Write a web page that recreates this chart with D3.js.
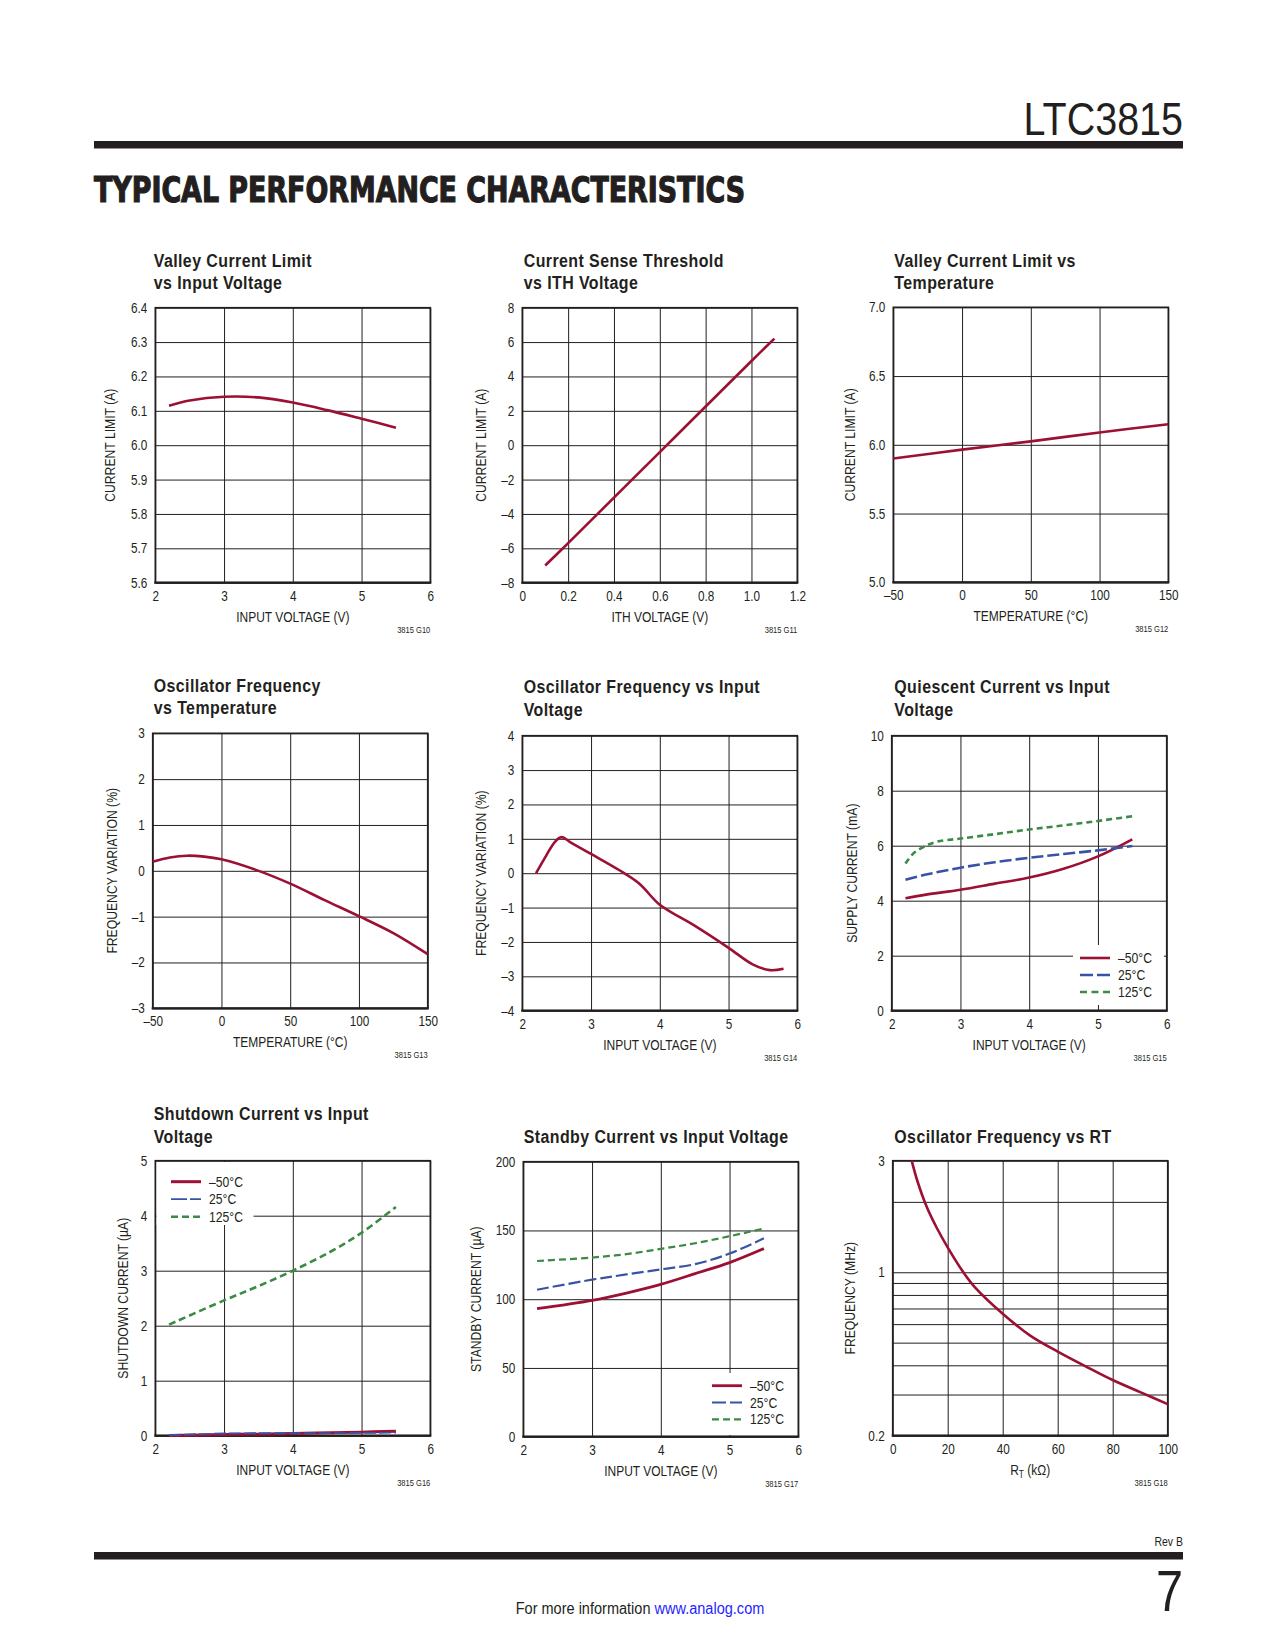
<!DOCTYPE html>
<html>
<head>
<meta charset="utf-8">
<script src="https://cdn.jsdelivr.net/npm/d3@7"></script>
<style>
body { margin: 0; background: #fff; }
svg text { font-family: 'Liberation Sans', Arial, sans-serif; fill: #231f20; }
</style>
</head>
<body>
<svg width="1275" height="1650"></svg>
<script>
// ---------- data ----------
// G10 valley current limit vs input voltage
var g10Vin  = [2.2, 2.5, 3.0, 3.5, 4.0, 4.5, 5.0, 5.5];
var g10Ilim = [6.115, 6.130, 6.141, 6.139, 6.124, 6.102, 6.077, 6.051];
// G11 current sense threshold vs ITH
var g11Vith = [0.1, 0.2, 0.4, 0.6, 0.8, 1.0, 1.1];
var g11Ilim = [-7.0, -5.7, -3.05, -0.4, 2.25, 4.9, 6.2];
// G12 valley current limit vs temperature
var g12Temp = [-50, 0, 50, 100, 150];
var g12Ilim = [5.90, 5.965, 6.025, 6.09, 6.15];
// G13 oscillator frequency vs temperature
var g13Temp = [-50, -37.5, -25, -12.5, 0, 25, 50, 75, 100, 125, 150];
var g13Freq = [0.20, 0.29, 0.33, 0.31, 0.25, 0.02, -0.28, -0.64, -0.99, -1.36, -1.82];
// G14 oscillator frequency vs input voltage
var g14Vin  = [2.2, 2.35, 2.47, 2.57, 2.7, 3.0, 3.4, 3.7, 4.0, 4.5, 5.0, 5.35, 5.6, 5.8];
var g14Freq = [0.0, 0.52, 0.9, 1.05, 0.9, 0.56, 0.1, -0.3, -0.92, -1.52, -2.17, -2.65, -2.82, -2.78];
// G15 quiescent current vs input voltage
var g15Vin     = [2.2, 2.5, 3.0, 3.5, 4.0, 4.5, 5.0, 5.5];
var g15Cold    = [4.09, 4.22, 4.40, 4.62, 4.84, 5.16, 5.61, 6.23];
var g15Room    = [4.76, 4.95, 5.20, 5.40, 5.56, 5.70, 5.83, 5.99];
var g15VinHot  = [2.2, 2.32, 2.46, 2.65, 3.0, 3.5, 4.0, 4.5, 5.0, 5.5];
var g15Hot     = [5.35, 5.73, 5.95, 6.14, 6.26, 6.42, 6.59, 6.74, 6.90, 7.07];
// G16 shutdown current vs input voltage
var g16Vin    = [2.2, 3.0, 3.5, 4.0, 4.54, 5.0, 5.5];
var g16Hot    = [2.02, 2.46, 2.72, 3.0, 3.34, 3.69, 4.16];
var g16VinLow = [2.2, 3.0, 4.0, 5.0, 5.5];
var g16Cold   = [0.005, 0.02, 0.04, 0.065, 0.08];
var g16Room   = [0.01, 0.04, 0.045, 0.05, 0.055];
// G17 standby current vs input voltage
var g17Vin  = [2.2, 3.0, 3.5, 4.0, 4.5, 5.0, 5.5];
var g17Cold = [93.1, 99.2, 104.5, 110.8, 118.6, 126.6, 136.8];
var g17Room = [106.9, 114.2, 118.0, 121.7, 125.5, 133.2, 144.3];
var g17Hot  = [127.8, 130.3, 132.8, 136.6, 140.7, 145.8, 151.4];
// G18 oscillator frequency vs RT
var g18Rt   = [6.9, 9, 12.4, 16, 20.3, 25.7, 30, 40, 50, 60, 70, 80, 90, 100];
var g18Freq = [3.0, 2.45, 1.9, 1.55, 1.26, 1.0, 0.86, 0.665, 0.536, 0.458, 0.397, 0.346, 0.307, 0.273];

var tempLabels = ["\u201350\u00b0C", "25\u00b0C", "125\u00b0C"];

// ---------- styles ----------
var RED = "#9c1034", BLUE = "#3953a4", GREEN = "#3b8a45", INK = "#231f20";
var W = 275, H = 275;
var SX = 0.84;  // fake a condensed face
var svg = d3.select("svg");

function fmt(d, p) {
  var s = p == null ? String(d) : (p === "z" ? (d === 0 ? "0" : d.toFixed(1)) : d.toFixed(p));
  return s.replace("-", "\u2013");
}

function zip(xs, ys) { return xs.map(function (v, i) { return [v, ys[i]]; }); }

// narrow text: translate, optional rotate, then squeeze horizontally
function addText(parent, x, y, s, size, o) {
  o = o || {};
  var g = parent.append("g").attr("transform", "translate(" + x + "," + y + ")" +
    (o.rotate ? " rotate(-90)" : "") + " scale(" + SX + ",1)");
  var t = g.append("text").attr("font-size", size).attr("text-anchor", o.anchor || "start");
  if (o.bold) t.attr("font-weight", "bold");
  if (o.ls) t.attr("letter-spacing", o.ls);
  if (o.dy) t.attr("dy", o.dy);
  if (s != null) t.text(s);
  return t;
}

function squeezeAxis(a) {
  a.select(".domain").remove();
  a.selectAll("line").attr("stroke", INK).attr("stroke-width", 1);
  a.selectAll("text").each(function () {
    var t = d3.select(this);
    var x0 = +t.attr("x") || 0, y0 = +t.attr("y") || 0;
    t.attr("x", 0).attr("y", 0).attr("font-size", 14).attr("fill", INK)
      .style("font-family", "'Liberation Sans', Arial, sans-serif")
      .attr("transform", "translate(" + x0 + "," + y0 + ") scale(" + SX + ",1)");
  });
}

function panel(p) {
  var g = svg.append("g");
  var x = d3.scaleLinear().domain(p.xDomain).range([p.left, p.left + W]);
  var y = (p.log ? d3.scaleLog() : d3.scaleLinear()).domain(p.yDomain).range([p.top + H, p.top]);

  // grid + tick labels
  var gx = g.append("g").attr("transform", "translate(0," + (p.top + H) + ")")
    .call(d3.axisBottom(x).tickValues(p.xTicks).tickSize(-H).tickPadding(8)
      .tickFormat(function (d) { return fmt(d, p.xPrec); }));
  var gy = g.append("g").attr("transform", "translate(" + p.left + ",0)")
    .call(d3.axisLeft(y).tickValues(p.yGrid || p.yTicks).tickSize(-W).tickPadding(8)
      .tickFormat(function (d) {
        if (p.yGrid && p.yTicks.indexOf(d) < 0) return "";
        return fmt(d, p.yPrec);
      }));
  squeezeAxis(gx);
  squeezeAxis(gy);

  // legend box (covers grid)
  if (p.legend) {
    var L = p.legend;
    g.append("rect").attr("x", L.bx).attr("y", L.by).attr("width", L.bw).attr("height", L.bh).attr("fill", "#fff");
  }

  // frame
  g.append("rect").attr("x", p.left).attr("y", p.top).attr("width", W).attr("height", H)
    .attr("fill", "none").attr("stroke", INK).attr("stroke-width", 1.6);
  g.append("line").attr("x1", p.left - 1).attr("x2", p.left + W + 1)
    .attr("y1", p.top + H).attr("y2", p.top + H).attr("stroke", INK).attr("stroke-width", 2.2);

  // curves
  var line = d3.line().x(function (d) { return x(d[0]); }).y(function (d) { return y(d[1]); })
    .curve(d3.curveCatmullRom.alpha(0.5));
  p.series.forEach(function (s) {
    g.append("path").attr("d", line(zip(s.x, s.y))).attr("fill", "none")
      .attr("stroke", s.color).attr("stroke-width", s.width || 2.6)
      .attr("stroke-dasharray", s.dash || null);
  });

  // legend entries
  if (p.legend) {
    p.series.forEach(function (s, i) {
      var ly = L.y0 + i * L.dy;
      g.append("line").attr("x1", L.x0).attr("x2", L.x0 + 30).attr("y1", ly).attr("y2", ly)
        .attr("stroke", s.color).attr("stroke-width", s.width || 2.6).attr("stroke-dasharray", s.legendDash || s.dash || null);
      addText(g, L.x0 + 38, ly, tempLabels[i], 14.5, { dy: "0.35em" });
    });
  }

  // titles
  p.title.forEach(function (t, i) {
    addText(g, p.titleX, p.titleY + i * 22.7, t, 19, { bold: true, ls: 0.5 });
  });

  // axis titles
  if (p.xSub) {
    var xt = addText(g, p.left + W / 2, p.top + H + 39, null, 14.3, { anchor: "middle" });
    xt.append("tspan").text(p.xLabel[0]);
    xt.append("tspan").attr("font-size", 10).attr("baseline-shift", "-3").text(p.xLabel[1]);
    xt.append("tspan").text(p.xLabel[2]);
  } else {
    addText(g, p.left + W / 2, p.top + H + 39, p.xLabel, 14.3, { anchor: "middle" });
  }
  addText(g, p.left - p.yOff, p.top + H / 2, p.yLabel, 14.5, { anchor: "middle", rotate: true, dy: "0.35em" });
  addText(g, p.left + W, p.top + H + 50, p.code, 9, { anchor: "end" });
}

var vinTicks = [2, 3, 4, 5, 6];
var tempTicks = [-50, 0, 50, 100, 150];
var colTitleX = [153.7, 523.7, 894.3];

var panels = [
  { left: 155.3, top: 307.7, titleX: colTitleX[0], titleY: 266.7, title: ["Valley Current Limit", "vs Input Voltage"],
    xDomain: [2, 6], xTicks: vinTicks, yDomain: [5.6, 6.4], yTicks: [5.6, 5.7, 5.8, 5.9, 6.0, 6.1, 6.2, 6.3, 6.4], yPrec: 1,
    xLabel: "INPUT VOLTAGE (V)", yLabel: "CURRENT LIMIT (A)", yOff: 45, code: "3815 G10",
    series: [{ x: g10Vin, y: g10Ilim, color: RED }] },
  { left: 522.3, top: 307.7, titleX: colTitleX[1], titleY: 266.7, title: ["Current Sense Threshold", "vs ITH Voltage"],
    xDomain: [0, 1.2], xTicks: [0, 0.2, 0.4, 0.6, 0.8, 1.0, 1.2], xPrec: "z", yDomain: [-8, 8], yTicks: [-8, -6, -4, -2, 0, 2, 4, 6, 8],
    xLabel: "ITH VOLTAGE (V)", yLabel: "CURRENT LIMIT (A)", yOff: 41, code: "3815 G11",
    series: [{ x: g11Vith, y: g11Ilim, color: RED }] },
  { left: 893.3, top: 307.3, titleX: colTitleX[2], titleY: 266.7, title: ["Valley Current Limit vs", "Temperature"],
    xDomain: [-50, 150], xTicks: tempTicks, yDomain: [5, 7], yTicks: [5, 5.5, 6, 6.5, 7], yPrec: 1,
    xLabel: "TEMPERATURE (\u00b0C)", yLabel: "CURRENT LIMIT (A)", yOff: 43, code: "3815 G12",
    series: [{ x: g12Temp, y: g12Ilim, color: RED }] },
  { left: 152.7, top: 733.3, titleX: colTitleX[0], titleY: 691.7, title: ["Oscillator Frequency", "vs Temperature"],
    xDomain: [-50, 150], xTicks: tempTicks, yDomain: [-3, 3], yTicks: [-3, -2, -1, 0, 1, 2, 3],
    xLabel: "TEMPERATURE (\u00b0C)", yLabel: "FREQUENCY VARIATION (%)", yOff: 41, code: "3815 G13",
    series: [{ x: g13Temp, y: g13Freq, color: RED }] },
  { left: 522.3, top: 735.7, titleX: colTitleX[1], titleY: 693.3, title: ["Oscillator Frequency vs Input", "Voltage"],
    xDomain: [2, 6], xTicks: vinTicks, yDomain: [-4, 4], yTicks: [-4, -3, -2, -1, 0, 1, 2, 3, 4],
    xLabel: "INPUT VOLTAGE (V)", yLabel: "FREQUENCY VARIATION (%)", yOff: 41, code: "3815 G14",
    series: [{ x: g14Vin, y: g14Freq, color: RED }] },
  { left: 891.7, top: 735.7, titleX: colTitleX[2], titleY: 693.3, title: ["Quiescent Current vs Input", "Voltage"],
    xDomain: [2, 6], xTicks: vinTicks, yDomain: [0, 10], yTicks: [0, 2, 4, 6, 8, 10],
    xLabel: "INPUT VOLTAGE (V)", yLabel: "SUPPLY CURRENT (mA)", yOff: 40, code: "3815 G15",
    legend: { bx: 1073, by: 945, bw: 91, bh: 60, x0: 1080, y0: 958, dy: 17 },
    series: [{ x: g15Vin, y: g15Cold, color: RED },
             { x: g15Vin, y: g15Room, color: BLUE, dash: "12,4", legendDash: "13,4" },
             { x: g15VinHot, y: g15Hot, color: GREEN, dash: "6,4", legendDash: "7,4.5" }] },
  { left: 155.3, top: 1160.7, titleX: colTitleX[0], titleY: 1120, title: ["Shutdown Current vs Input", "Voltage"],
    xDomain: [2, 6], xTicks: vinTicks, yDomain: [0, 5], yTicks: [0, 1, 2, 3, 4, 5],
    xLabel: "INPUT VOLTAGE (V)", yLabel: "SHUTDOWN CURRENT (\u00b5A)", yOff: 32, code: "3815 G16",
    legend: { bx: 156.5, by: 1162, bw: 97, bh: 63, x0: 171, y0: 1181.7, dy: 17.5 },
    series: [{ x: g16VinLow, y: g16Cold, color: RED, width: 3 },
             { x: g16VinLow, y: g16Room, color: BLUE, width: 1.8, dash: "12,3", legendDash: "16,3" },
             { x: g16Vin, y: g16Hot, color: GREEN, dash: "7,4" }] },
  { left: 523.3, top: 1161.7, titleX: colTitleX[1], titleY: 1143.3, title: ["Standby Current vs Input Voltage"],
    xDomain: [2, 6], xTicks: vinTicks, yDomain: [0, 200], yTicks: [0, 50, 100, 150, 200],
    xLabel: "INPUT VOLTAGE (V)", yLabel: "STANDBY CURRENT (\u00b5A)", yOff: 47, code: "3815 G17",
    legend: { bx: 705, by: 1373, bw: 92, bh: 62, x0: 712, y0: 1385.7, dy: 16.8 },
    series: [{ x: g17Vin, y: g17Cold, color: RED, width: 2.8 },
             { x: g17Vin, y: g17Room, color: BLUE, width: 2.2, dash: "12,4", legendDash: "14,4" },
             { x: g17Vin, y: g17Hot, color: GREEN, width: 2.2, dash: "7,4" }] },
  { left: 892.7, top: 1160.7, titleX: colTitleX[2], titleY: 1143.3, title: ["Oscillator Frequency vs RT"],
    xDomain: [0, 100], xTicks: [0, 20, 40, 60, 80, 100], log: true, yDomain: [0.2, 3],
    yGrid: [0.2, 0.3, 0.4, 0.5, 0.6, 0.7, 0.8, 0.9, 1, 2, 3], yTicks: [0.2, 1, 3],
    xLabel: ["R", "T", " (k\u03a9)"], xSub: true, yLabel: "FREQUENCY (MHz)", yOff: 43, code: "3815 G18",
    series: [{ x: g18Rt, y: g18Freq, color: RED }] }
];

panels.forEach(panel);

// ---------- page header / footer ----------
addText(svg, 1183, 135, "LTC3815", 47, { anchor: "end" });
svg.append("rect").attr("x", 94).attr("y", 141).attr("width", 1089).attr("height", 7.5).attr("fill", INK);
svg.append("text").attr("x", 94).attr("y", 202).attr("font-size", 36).attr("font-weight", "bold")
  .style("font-family", "'DejaVu Sans Condensed', 'Liberation Sans', sans-serif")
  .attr("stroke", INK).attr("stroke-width", 1.2)
  .attr("textLength", 651).attr("lengthAdjust", "spacingAndGlyphs").text("TYPICAL PERFORMANCE CHARACTERISTICS");

addText(svg, 1183, 1546, "Rev B", 12.5, { anchor: "end" });
svg.append("rect").attr("x", 94).attr("y", 1552).attr("width", 1089).attr("height", 7.5).attr("fill", INK);
addText(svg, 1183, 1611, "7", 58, { anchor: "end" });
var foot = addText(svg, 640, 1614, null, 17.3, { anchor: "middle" });
foot.append("tspan").text("For more information ");
foot.append("tspan").style("fill", "#1f1fff").text("www.analog.com");
</script>
</body>
</html>
